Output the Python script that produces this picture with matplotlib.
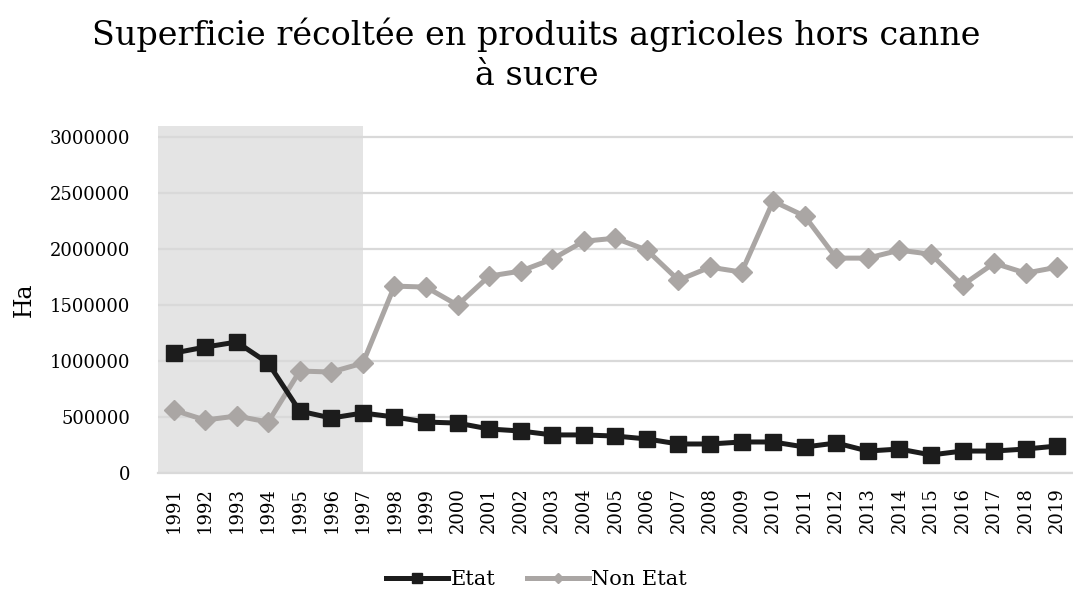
import matplotlib
matplotlib.use("Agg")
import matplotlib.pyplot as plt

plt.rcParams['font.family'] = ['DejaVu Serif']

# Data
years = list(range(1991, 2020))
etat = [1071000, 1125000, 1170000, 982000, 553000, 491000, 536000, 500000,
        455000, 446000, 393000, 375000, 340000, 340000, 330000, 304000,
        259000, 259000, 277000, 277000, 232000, 268000, 196000, 214000,
        161000, 196000, 196000, 214000, 241000]
non_etat = [562000, 473000, 509000, 455000, 911000, 902000, 982000, 1670000,
            1661000, 1500000, 1759000, 1804000, 1911000, 2071000, 2098000,
            1991000, 1723000, 1839000, 1795000, 2429000, 2295000, 1920000,
            1920000, 1991000, 1955000, 1679000, 1875000, 1786000, 1839000]
y_ticks = [0, 500000, 1000000, 1500000, 2000000, 2500000, 3000000]

fig = plt.figure(figsize=(10.73, 5.93), dpi=100)
ax = fig.add_axes([0.147, 0.2024, 0.853, 0.585])

# shaded period
ax.axvspan(1990.5, 1997, color='#e4e4e4', zorder=0, lw=0)

ax.plot(years, etat, color='#1c1c1c', lw=3.6, marker='s', markersize=11,
        label='Etat', zorder=4)
ax.plot(years, non_etat, color='#aaa6a4', lw=3.6, marker='D', markersize=10,
        label='Non Etat', zorder=3)

ax.set_xlim(1990.5, 2019.5)
ax.set_ylim(0, 3100000)
ax.set_yticks(y_ticks)
ax.set_yticklabels([str(v) for v in y_ticks], fontsize=13)
ax.set_xticks(years)
ax.set_xticklabels([str(y) for y in years], rotation=90, fontsize=13)
ax.tick_params(axis='y', length=0, pad=20)
ax.tick_params(axis='x', length=0, pad=10)

ax.grid(axis='y', color='#d9d9d9', lw=1.6, zorder=1)
ax.set_axisbelow(True)
for s in ['top', 'right', 'left']:
    ax.spines[s].set_visible(False)
ax.spines['bottom'].set_color('#d9d9d9')
ax.spines['bottom'].set_linewidth(1.6)

ax.set_ylabel('Ha', fontsize=17, labelpad=10)

fig.suptitle('Superficie récoltée en produits agricoles hors canne\nà sucre',
             fontsize=24, x=0.5, y=0.97, linespacing=1.3)

leg = fig.legend(loc='center', bbox_to_anchor=(0.5, 0.022), ncol=2,
                 frameon=False, fontsize=15, handlelength=3.0,
                 handletextpad=0.1, columnspacing=1.5)
leg.legend_handles[0].set_markersize(7)
leg.legend_handles[1].set_markersize(5)

fig.savefig('out.png', dpi=100)
